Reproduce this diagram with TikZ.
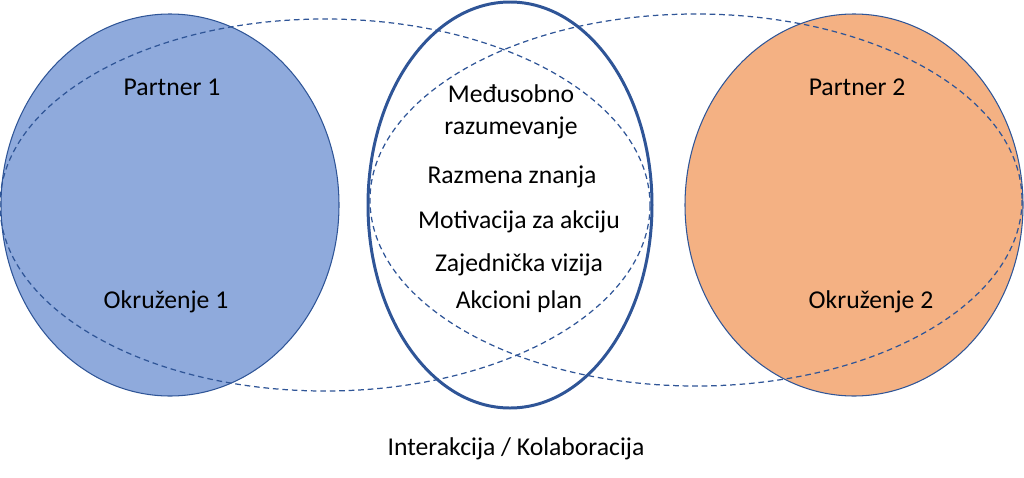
\documentclass[tikz,border=0pt]{standalone}
\usepackage{fontspec}
\setmainfont{Carlito}
\definecolor{partnerblue}{HTML}{8FAADC}
\definecolor{partnerorange}{HTML}{F4B183}
\definecolor{rimblue}{HTML}{2F5597}
\begin{document}
\begin{tikzpicture}[x=0.02cm,y=-0.02cm,
	rim/.style={draw=rimblue,line width=0.6pt},
	overlap/.style={draw=rimblue,line width=0.7pt,dash pattern=on 3.2pt off 2.2pt},
	txt/.style={font=\fontsize{14.6}{18}\selectfont,inner sep=0pt,anchor=base}]
\useasboundingbox (0,0) rectangle (1024,477);
\coordinate (P1) at (170,205);
\coordinate (P2) at (854,205);
\coordinate (M) at (510,205);
\coordinate (E1) at (325,205);
\coordinate (E2) at (696,200);
\filldraw[rim,fill=partnerblue] (P1) ellipse (169 and 191);
\filldraw[rim,fill=partnerorange] (P2) ellipse (169 and 191);
\draw [rimblue,line width=1.7pt] (M) ellipse (142 and 203);
\draw [overlap] (E1) ellipse (325 and 186);
\draw [overlap] (E2) ellipse (326 and 186);
\node[txt] (partner1) at (172,95) {Partner 1};
\node[txt] (okolina1) at (166,308) {Okruženje 1};
\node[txt] (partner2) at (857,95) {Partner 2};
\node[txt] (okolina2) at (871,308) {Okruženje 2};
\node[txt,align=center] (razum) at (511,134) {Međusobno\\razumevanje};
\node[txt] (znanje) at (512,183) {Razmena znanja};
\node[txt] (motiv) at (519,228) {Motivacija za akciju};
\node[txt] (vizija) at (519,271) {Zajednička vizija};
\node[txt] (plan) at (519,308) {Akcioni plan};
\node[txt] (kolab) at (516,455) {Interakcija / Kolaboracija};
\end{tikzpicture}
\end{document}
